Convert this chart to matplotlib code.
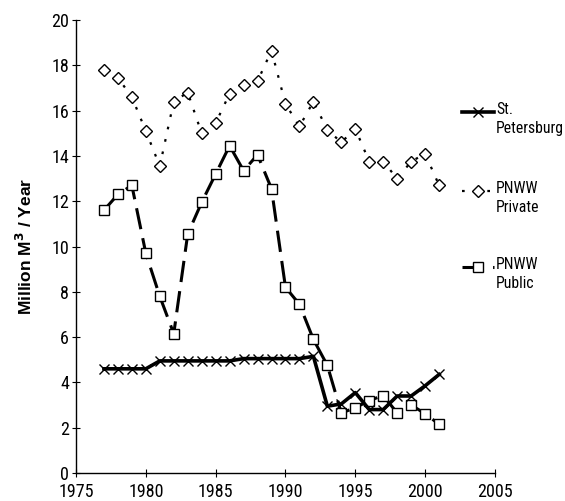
import matplotlib
matplotlib.use("Agg")
import matplotlib.pyplot as plt
from matplotlib.lines import Line2D

plt.rcParams["font.family"] = ["Roboto Condensed", "Liberation Sans", "DejaVu Sans"]

years = list(range(1977, 2002))

st_petersburg = [4.6, 4.6, 4.6, 4.6, 4.95, 4.95, 4.95, 4.95, 4.95, 4.95,
                 5.05, 5.05, 5.05, 5.05, 5.05, 5.15, 2.95, 3.05, 3.55, 2.8,
                 2.8, 3.4, 3.4, 3.85, 4.35]
pnww_private = [17.8, 17.45, 16.6, 15.1, 13.55, 16.4, 16.8, 15.0, 15.45, 16.75,
                17.15, 17.3, 18.65, 16.3, 15.3, 16.4, 15.15, 14.6, 15.2, 13.75,
                13.75, 13.0, 13.75, 14.1, 12.7]
pnww_public = [11.6, 12.3, 12.7, 9.7, 7.8, 6.15, 10.55, 11.95, 13.2, 14.45,
               13.35, 14.05, 12.55, 8.2, 7.45, 5.9, 4.75, 2.65, 2.88, 3.2,
               3.42, 2.65, 3.0, 2.62, 2.15]

xticks = [1975, 1980, 1985, 1990, 1995, 2000, 2005]
yticks = list(range(0, 21, 2))

fig = plt.figure(figsize=(5.65, 5.01), dpi=100)
fig.patch.set_facecolor("white")
ax = fig.add_axes([0.1345, 0.0559, 0.7415, 0.9041])

sp_style = dict(color="black", linewidth=2.6, marker="x", markersize=7,
                markeredgewidth=1.0)
priv_style = dict(color="black", linewidth=1.6, dashes=(1.2, 4.5), marker="D",
                  markersize=6.5, markerfacecolor="white", markeredgewidth=1.0)
pub_style = dict(color="black", linewidth=2.2, dashes=(7, 3), marker="s",
                 markersize=7, markerfacecolor="white", markeredgewidth=1.0)

ax.plot(years, pnww_private, zorder=2, **priv_style)
ax.plot(years, pnww_public, zorder=3, **pub_style)
ax.plot(years, st_petersburg, zorder=4, **sp_style)

ax.set_xlim(1975, 2005)
ax.set_ylim(0, 20)
ax.set_xticks(xticks)
ax.set_yticks(yticks)
ax.tick_params(axis="both", direction="inout", length=6, width=0.8,
               labelsize=13, pad=2)
ax.tick_params(axis="x", pad=4)
for side in ("top", "right"):
    ax.spines[side].set_visible(False)
for side in ("left", "bottom"):
    ax.spines[side].set_linewidth(1.0)

ax.set_ylabel("Million M$^\\mathbf{3}$ / Year", fontsize=12.5, fontweight="bold",
              family=["Liberation Sans", "DejaVu Sans"], labelpad=12)

# hand-drawn legend on the right, outside the axes
W, H = 565.0, 501.0
entries = [
    ("St.\nPetersburg", 112, sp_style),
    ("PNWW\nPrivate", 191, priv_style),
    ("PNWW\nPublic", 267, pub_style),
]
for label, py, style in entries:
    yf = 1 - py / H
    line_style = {k: v for k, v in style.items() if not k.startswith("marker")}
    fig.add_artist(Line2D([462 / W, 494 / W], [yf, yf], transform=fig.transFigure,
                          **line_style))
    mk = {k: v for k, v in style.items() if k.startswith("marker")}
    fig.add_artist(Line2D([478 / W], [yf], transform=fig.transFigure,
                          color="black", linestyle="none", **mk))
    fig.text(496 / W, yf + 10 / H, label, fontsize=11.3, va="top", ha="left",
             linespacing=1.35)

fig.savefig("out.png", dpi=100, facecolor=fig.get_facecolor())
plt.close(fig)
